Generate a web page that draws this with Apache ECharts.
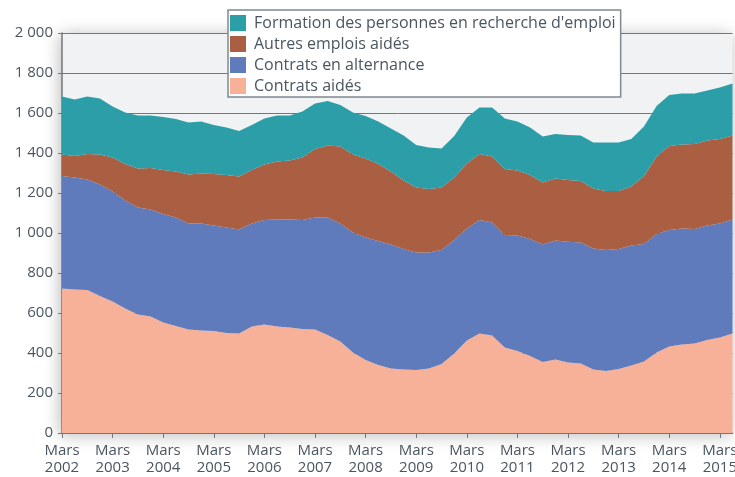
<!DOCTYPE html>
<html>
<head>
<meta charset="utf-8">
<script src="https://cdn.jsdelivr.net/npm/echarts@6/dist/echarts.min.js"></script>
<style>
  html, body { margin: 0; padding: 0; background: #fff; }
  #main { width: 735px; height: 477px; }
</style>
</head>
<body>
<div id="main"></div>
<script>
// trimestres de mars 2002 à juin 2015
var years = [2002, 2003, 2004, 2005, 2006, 2007, 2008, 2009, 2010, 2011, 2012, 2013, 2014, 2015];
var months = ['Mars', 'Juin', 'Sept.', 'Déc.'];
var categories = [];
for (var y = 0; y < years.length; y++) {
    for (var m = 0; m < months.length; m++) {
        if (years[y] === 2015 && m > 1) break;
        categories.push(months[m] + ' ' + years[y]);
    }
}

var yTicks = [0, 200, 400, 600, 800, 1000, 1200, 1400, 1600, 1800, 2000];

// milliers de bénéficiaires
var contratsAides = [723, 718, 715, 685, 657, 623, 593, 582, 552, 535, 517, 513, 510, 500,
    498, 532, 543, 532, 527, 520, 518, 490, 457, 402, 365, 340, 323, 318,
    315, 323, 345, 398, 462, 498, 487, 428, 410, 385, 355, 368, 352, 348,
    318, 310, 320, 337, 357, 403, 432, 443, 448, 465, 477, 498];
var alternance = [562, 559, 553, 558, 550, 539, 535, 535, 543, 543, 531, 535, 527, 528,
    520, 516, 522, 536, 541, 545, 559, 587, 591, 600, 613, 620, 619, 602,
    588, 579, 570, 567, 561, 567, 565, 562, 578, 585, 588, 594, 604, 605,
    605, 605, 600, 600, 588, 592, 583, 579, 572, 572, 571, 570];
var autresEmplois = [108, 108, 127, 150, 170, 183, 195, 208, 220, 230, 245, 250, 258, 262,
    264, 267, 278, 289, 294, 312, 343, 361, 384, 391, 395, 385, 365, 342,
    325, 318, 313, 313, 325, 330, 330, 330, 324, 320, 310, 311, 309, 307,
    300, 295, 290, 295, 340, 387, 420, 421, 425, 425, 422, 419];
var formation = [289, 283, 287, 280, 255, 258, 264, 263, 265, 262, 260, 259, 245, 238,
    228, 225, 230, 230, 225, 230, 228, 222, 208, 209, 212, 212, 216, 226,
    212, 208, 195, 207, 229, 233, 246, 253, 245, 238, 229, 222, 225, 227,
    230, 243, 243, 238, 247, 253, 255, 255, 253, 250, 257, 261];

var names = ['Formation des personnes en recherche d\'emploi', 'Autres emplois aidés',
    'Contrats en alternance', 'Contrats aidés'];

var textColor = '#4a5560';
var lineColor = '#6e7880';

function areaSerie(name, data, color) {
    return {
        name: name,
        type: 'line',
        stack: 'total',
        data: data,
        symbol: 'none',
        smooth: false,
        lineStyle: { width: 0 },
        areaStyle: { color: color, opacity: 1 },
        itemStyle: { color: color },
        emphasis: { disabled: true }
    };
}

var myChart = echarts.init(document.getElementById('main'));
var option = {
    animation: false,
    textStyle: { fontFamily: 'Open Sans' },
    grid: {
        left: 62, right: 2.5, top: 33, bottom: 44,
        containLabel: false,
        outerBoundsMode: 'none',
        show: true,
        backgroundColor: '#f1f2f4',
        borderWidth: 0,
        shadowBlur: 16,
        shadowColor: 'rgba(0,0,0,0.28)',
        shadowOffsetX: -2,
        shadowOffsetY: 2
    },
    legend: {
        data: names,
        orient: 'vertical',
        left: 228, top: 10,
        itemWidth: 16, itemHeight: 16, itemGap: 5,
        icon: 'rect',
        padding: [5, 5, 3, 2],
        backgroundColor: '#fff',
        borderColor: '#7f8990',
        borderWidth: 1.5,
        borderRadius: 0,
        textStyle: { color: textColor, fontSize: 16, padding: [0, 0, 0, 3] }
    },
    xAxis: {
        type: 'category',
        data: categories,
        boundaryGap: false,
        axisLine: { lineStyle: { color: lineColor, width: 1.5 } },
        axisTick: { interval: 3, length: 5, lineStyle: { color: lineColor } },
        axisLabel: {
            interval: 3,
            margin: 9,
            color: textColor,
            fontSize: 15,
            lineHeight: 17,
            formatter: function (v) { return v.replace(' ', '\n'); }
        },
        splitLine: { show: false }
    },
    yAxis: {
        type: 'value',
        min: yTicks[0],
        max: yTicks[yTicks.length - 1],
        interval: 200,
        axisLine: { show: true, lineStyle: { color: lineColor, width: 1.5 } },
        axisTick: { show: true, length: 4, lineStyle: { color: lineColor } },
        axisLabel: {
            margin: 9,
            color: textColor,
            fontSize: 15,
            formatter: function (v) {
                return String(v).replace(/\B(?=(\d{3})+(?!\d))/g, ' ');
            }
        },
        splitLine: { lineStyle: { color: lineColor, width: 1 } }
    },
    series: [
        areaSerie(names[3], contratsAides, '#f7b199'),
        areaSerie(names[2], alternance, '#5f7bbb'),
        areaSerie(names[1], autresEmplois, '#ab5f42'),
        areaSerie(names[0], formation, '#2c9ea7')
    ]
};
myChart.setOption(option);
</script>
</body>
</html>
